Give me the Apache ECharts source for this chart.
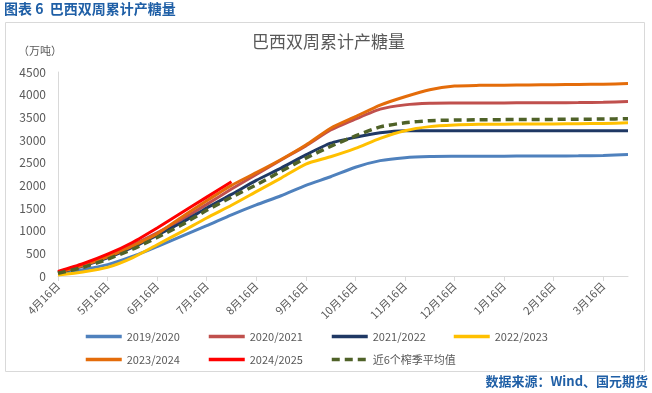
<!DOCTYPE html>
<html>
<head>
<meta charset="utf-8">
<script src="https://cdn.jsdelivr.net/npm/echarts@6/dist/echarts.min.js"></script>
<style>html,body{margin:0;padding:0;background:#fff;}#c{width:652px;height:393px;}</style>
</head>
<body>
<div id="c"></div>
<script>
const categories = ['4月16日','5月1日','5月16日','6月1日','6月16日','7月1日','7月16日','8月1日','8月16日','9月1日','9月16日','10月1日','10月16日','11月1日','11月16日','12月1日','12月16日','1月1日','1月16日','2月1日','2月16日','3月1日','3月16日','4月1日'];
const yTicks = [0, 500, 1000, 1500, 2000, 2500, 3000, 3500, 4000, 4500];
const s2019 = [60,140,250,430,650,880,1110,1350,1570,1770,2000,2190,2400,2545,2610,2635,2640,2642,2644,2645,2646,2650,2660,2680];
const s2020 = [90,250,440,680,950,1250,1580,1920,2240,2560,2870,3220,3460,3680,3775,3810,3815,3817,3818,3820,3822,3825,3830,3850];
const s2021 = [70,220,400,630,900,1180,1500,1800,2110,2380,2670,2930,3060,3160,3205,3205,3205,3205,3205,3205,3205,3205,3205,3205];
const s2022 = [20,90,190,400,690,980,1280,1560,1860,2160,2470,2630,2815,3037,3205,3295,3330,3345,3350,3352,3355,3360,3365,3380];
const s2023 = [80,230,420,660,930,1300,1660,2000,2280,2570,2890,3260,3515,3770,3955,4110,4190,4205,4210,4215,4220,4225,4230,4245];
const s2024 = [100,270,480,740,1060,1400,1740,2080];
const sAvg = [60,190,370,590,850,1130,1450,1740,2010,2310,2600,2860,3090,3290,3380,3425,3440,3445,3450,3452,3455,3458,3462,3470];
const names = ['2019/2020','2020/2021','2021/2022','2022/2023','2023/2024','2024/2025','近6个榨季平均值'];
const colors = ['#4F81BD','#C0504D','#1F3864','#FFC000','#E46C0A','#FF0000','#4F6228'];
const dataSets = [s2019,s2020,s2021,s2022,s2023,s2024,sAvg];

const FONT = '"Noto Sans CJK SC", "Noto Sans", sans-serif';
const chart = echarts.init(document.getElementById('c'), null, {renderer:'canvas'});

const series = dataSets.map((d,i)=>({
  name: names[i], type:'line', data: d, symbol:'none', showSymbol:false,
  smooth: 0.2,
  lineStyle: {color: colors[i], width: i===6 ? 3.5 : 3, type: i===6 ? [8,5] : 'solid'},
  itemStyle: {color: colors[i]},
  z: 2 + i
}));

const legendPos = [[84,331],[207,331],[330,331],[452,331],[84,354],[207,354],[330,354]];
const legends = names.map((n,i)=>({
  data:[n], left: legendPos[i][0], top: legendPos[i][1],
  itemWidth: 36, itemHeight: 12, itemGap: 4,
  itemStyle: {opacity: 0},
  lineStyle: {width: i===6 ? 3.5 : 3.5},
  textStyle:{fontSize:11, color:'#595959', fontFamily: FONT},
  padding: 0
}));

chart.setOption({
  backgroundColor:'#ffffff',
  animation:false,
  title:[
    {text:'图表 6  巴西双周累计产糖量', left:4, top:2, padding:0,
     textStyle:{fontSize:14, fontWeight:'bold', color:'#1F5FA6', fontFamily: FONT}},
    {text:'巴西双周累计产糖量', left:252, top:33, padding:0,
     textStyle:{fontSize:17, fontWeight:'normal', color:'#595959', fontFamily: FONT}}
  ],
  graphic:[
    {type:'rect', shape:{x:5.5, y:22.5, width:639, height:349}, style:{fill:'none', stroke:'#D9D9D9', lineWidth:1}, z:-1},
    {type:'text', left:18, top:45, style:{text:'（万吨）', fontSize:11, fill:'#595959', fontFamily: FONT}},
    {type:'text', right:4, top:375, style:{text:'数据来源：Wind、国元期货', fontSize:13, fontWeight:'bold', fill:'#1F5FA6', fontFamily: FONT}}
  ],
  legend: legends,
  grid:{left:58, right:24, top:72, bottom:117, containLabel:false},
  xAxis:{
    type:'category', data: categories, boundaryGap:false,
    axisLine:{lineStyle:{color:'#D9D9D9'}},
    axisTick:{show:true, interval:1, length:5, lineStyle:{color:'#D9D9D9'}},
    axisLabel:{interval:1, rotate:45, fontSize:11, color:'#595959', fontFamily: FONT, margin:8}
  },
  yAxis:{
    type:'value', min:yTicks[0], max:yTicks[yTicks.length-1], interval:500,
    axisLine:{show:true, lineStyle:{color:'#D9D9D9'}},
    axisTick:{show:false},
    splitLine:{show:false},
    axisLabel:{fontSize:12, color:'#595959', fontFamily: FONT, margin:12, formatter: v => String(v)}
  },
  series: series
});
</script>
</body>
</html>
